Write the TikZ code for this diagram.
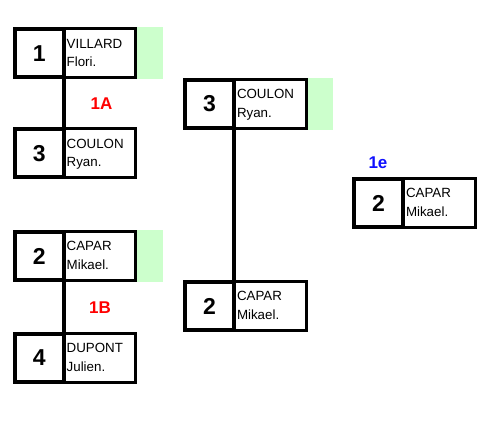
\documentclass[tikz,border=0pt]{standalone}
\usepackage{fontspec}
\setmainfont{Liberation Sans}
\definecolor{wingreen}{HTML}{CCFFCC}
\definecolor{lblred}{HTML}{FF0000}
\definecolor{lblblue}{HTML}{1010FF}
\tikzset{
  numbox/.style={draw=black, line width=4pt, minimum width=49pt, minimum height=48pt, inner sep=0pt, outer sep=0pt, font=\fontsize{23}{23}\selectfont\bfseries},
  namebox/.style={draw=black, line width=3pt, minimum width=72pt, minimum height=49pt, inner sep=0pt, outer sep=0pt},
  greenfill/.style={fill=wingreen, draw=none, minimum width=25.5pt, minimum height=52pt, inner sep=0pt, outer sep=0pt},
  nametext/.style={inner sep=0pt, outer sep=0pt, font=\fontsize{13.33}{13.33}\selectfont, anchor=base west},
  roundlbl/.style={inner sep=0pt, font=\fontsize{17}{17}\selectfont\bfseries},
  link/.style={line width=4pt, draw=black}
}
% #1 id, #2 x0, #3 y0 (down), #4 number, #5 line1, #6 line2, #7 green (1/0)
\newcommand{\entrybox}[7]{%
  \ifnum#7=1
    \node[greenfill, anchor=north west] (#1g) at (#2+124.5pt, -#3pt) {};
  \fi
  \node[numbox, anchor=north west] (#1n) at (#2+2pt, -#3-2pt) {#4};
  \node[namebox, anchor=north west] (#1m) at (#2+51pt, -#3-1.5pt) {};
  \node[nametext] (#1a) at ([xshift=3pt,yshift=-19.5pt]#1m.north west) {#5};
  \node[nametext] (#1b) at ([xshift=3pt,yshift=-38pt]#1m.north west) {#6};
}
\begin{document}
\begin{tikzpicture}[x=1pt,y=1pt]
\useasboundingbox (0,0) rectangle (483,-435);
\entrybox{a}{12.7}{27.3}{1}{VILLARD}{Flori.}{1}
\entrybox{b}{12.7}{127.3}{3}{COULON}{Ryan.}{0}
\entrybox{c}{12.7}{230}{2}{CAPAR}{Mikael.}{1}
\entrybox{d}{12.7}{331.7}{4}{DUPONT}{Julien.}{0}
\entrybox{e}{183}{78}{3}{COULON}{Ryan.}{1}
\entrybox{f}{183}{280}{2}{CAPAR}{Mikael.}{0}
\entrybox{g}{352}{177}{2}{CAPAR}{Mikael.}{0}
\draw[link] (an.south east) -- (bn.north east);
\draw[link] (cn.south east) -- (dn.north east);
\draw[link] (en.south east) -- (fn.north east);
\node[roundlbl, text=lblred] (l1a) at (101.5,-104) {1A};
\node[roundlbl, text=lblred] (l1b) at (100,-308) {1B};
\node[roundlbl, text=lblblue] (l1e) at (378,-162.5) {1e};
\end{tikzpicture}
\end{document}
